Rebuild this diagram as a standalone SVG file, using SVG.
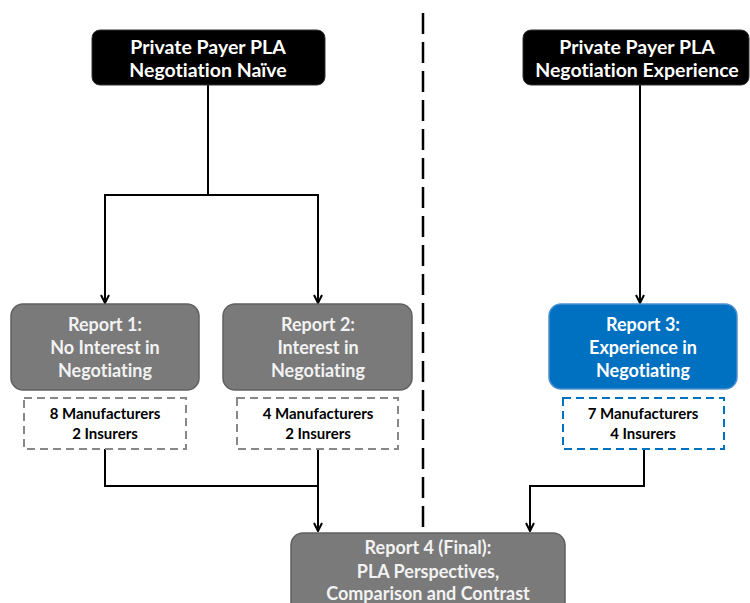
<svg xmlns="http://www.w3.org/2000/svg" width="750" height="603" viewBox="0 0 750 603">
<style>
text{font-family:Lato,"Open Sans","Liberation Sans",sans-serif;font-weight:bold;text-anchor:middle;font-variant-ligatures:none;font-feature-settings:"liga" 0}
.top rect{fill:#000;stroke:#333;stroke-width:1}
.top text{fill:#fff;font-size:19.5px}
.gray rect{fill:#7a7a7a;stroke:#606060;stroke-width:1.5}
.gray text{fill:#f2f2f2;font-size:18px}
.blue rect{fill:#0070c0;stroke:#4f8fd0;stroke-width:1.5}
.blue text{fill:#fff;font-size:18px}
.cnt rect{fill:#fff;stroke-width:2;stroke-dasharray:8 5}
.cnt text{fill:#000;font-size:15px}
.conn path{fill:none;stroke:#000;stroke-width:2}
</style>
<defs>
<marker id="arr" viewBox="0 0 10 10" refX="9" refY="5" markerWidth="10" markerHeight="10" markerUnits="userSpaceOnUse" orient="auto">
<path d="M1,1 L9,5 L1,9" fill="none" stroke="#000" stroke-width="2"/>
</marker>
</defs>
<line x1="423" y1="13" x2="423" y2="535" stroke="#000" stroke-width="2.5" stroke-dasharray="21 8"/>
<g class="conn">
<path d="M208,85 V195 H105 V303" marker-end="url(#arr)"/>
<path d="M208,195 H318 V303" marker-end="url(#arr)"/>
<path d="M640,85 V303" marker-end="url(#arr)"/>
<path d="M105,449 V486 H318 V531" marker-end="url(#arr)"/>
<path d="M318,449 V486"/>
<path d="M644,449 V486 H530 V531" marker-end="url(#arr)"/>
</g>
<g id="top-left" class="top">
<rect x="92" y="30" width="233" height="55" rx="8"/>
<text x="208" y="54">Private Payer PLA</text>
<text x="208" y="77">Negotiation Naïve</text>
</g>
<g id="top-right" class="top">
<rect x="523" y="30" width="226" height="55" rx="8"/>
<text x="637" y="54">Private Payer PLA</text>
<text x="637" y="77">Negotiation Experience</text>
</g>
<g id="report1" class="gray">
<rect x="11" y="304" width="188" height="86" rx="12"/>
<text x="105" y="331">Report 1:</text>
<text x="105" y="354">No Interest in</text>
<text x="105" y="377">Negotiating</text>
</g>
<g id="report2" class="gray">
<rect x="223" y="304" width="189" height="86" rx="12"/>
<text x="318" y="331">Report 2:</text>
<text x="318" y="354">Interest in</text>
<text x="318" y="377">Negotiating</text>
</g>
<g id="report3" class="blue">
<rect x="549" y="304" width="188" height="85" rx="12"/>
<text x="643" y="331">Report 3:</text>
<text x="643" y="354">Experience in</text>
<text x="643" y="377">Negotiating</text>
</g>
<g id="count1" class="cnt">
<rect x="24" y="398" width="162" height="51" stroke="#888"/>
<text x="105" y="419">8 Manufacturers</text>
<text x="105" y="439">2 Insurers</text>
</g>
<g id="count2" class="cnt">
<rect x="237" y="398" width="161" height="51" stroke="#888"/>
<text x="318" y="419">4 Manufacturers</text>
<text x="318" y="439">2 Insurers</text>
</g>
<g id="count3" class="cnt">
<rect x="563" y="398" width="161" height="51" stroke="#0070c0"/>
<text x="643" y="419">7 Manufacturers</text>
<text x="643" y="439">4 Insurers</text>
</g>
<g id="report4" class="gray">
<rect x="291" y="533" width="274" height="90" rx="12"/>
<text x="428" y="554">Report 4 (Final):</text>
<text x="428" y="578">PLA Perspectives,</text>
<text x="428" y="600">Comparison and Contrast</text>
</g>
</svg>
